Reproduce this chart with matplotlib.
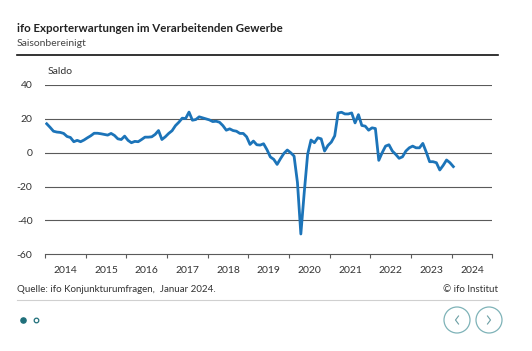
import numpy as np
import matplotlib
matplotlib.use("Agg")
import matplotlib.pyplot as plt
from matplotlib.patches import Circle

plt.rcParams['font.family'] = ['Lato', 'DejaVu Sans']

# ifo Exporterwartungen, Saldo, monatlich Jan 2014 - Jan 2024
werte = [
    17.1, 15.0, 12.7, 12.2, 12.0, 11.4, 9.6, 9.0, 6.5, 7.3, 6.5, 7.5,      # 2014
    8.8, 10.0, 11.5, 11.5, 11.2, 10.8, 10.4, 11.4, 10.2, 8.2, 7.8, 9.8,    # 2015
    7.3, 5.9, 6.7, 6.5, 7.8, 9.2, 9.2, 9.4, 10.8, 13.1, 7.8, 9.4,          # 2016
    11.4, 13.0, 16.0, 18.0, 20.4, 20.2, 24.0, 19.2, 19.6, 21.2, 20.6, 20.0,  # 2017
    19.4, 18.4, 18.6, 18.0, 16.0, 13.3, 14.1, 13.1, 12.7, 11.4, 11.4, 9.4,   # 2018
    4.9, 6.9, 4.7, 4.5, 5.3, 1.8, -2.5, -3.9, -6.9, -3.5, -0.4, 1.6,        # 2019
    0.0, -2.0, -17.6, -48.0, -23.5, -1.0, 7.5, 5.9, 8.8, 8.2, 1.0, 4.3,     # 2020
    6.3, 10.0, 23.5, 23.9, 22.9, 22.9, 23.5, 17.6, 22.5, 16.1, 15.7, 13.3,  # 2021
    14.7, 14.3, -4.5, 0.0, 3.9, 4.7, 1.0, -1.0, -3.3, -2.4, 1.0, 2.9,       # 2022
    3.9, 2.9, 2.9, 5.5, 0.4, -5.3, -5.3, -5.9, -10.2, -7.5, -4.3, -5.9,     # 2023
    -8.2,                                                                    # 2024
]
jahre = list(range(2014, 2025))
y_ticks = [40, 20, 0, -20, -40, -60]

monat = np.arange(len(werte))
x = 2014 + (monat + 0.5) / 12

W, H = 532, 351
fig = plt.figure(figsize=(W / 100, H / 100), dpi=100)

ax = fig.add_axes([45 / W, 1 - 254.3 / H, (492.3 - 45) / W, (254.3 - 85) / H])
ax.plot(x, werte, color='#1c74b9', lw=2.0, solid_joinstyle='round', zorder=3)
ax.set_xlim(2014, 2025)
ax.set_ylim(-60, 40)

ax.set_yticks(y_ticks)
ax.set_yticklabels([str(v) for v in y_ticks])
for v in y_ticks[:-1]:
    ax.axhline(v, color='#5a5a5a', lw=0.8, zorder=1)

ax.set_xticks(range(2014, 2026))
ax.set_xticklabels([])
ax.set_xticks([j + 0.5 for j in jahre], minor=True)
ax.set_xticklabels([str(j) for j in jahre], minor=True)
ax.tick_params(axis='x', which='major', length=3, width=0.8, color='#5a5a5a', direction='out')
ax.tick_params(axis='x', which='minor', length=0, pad=8.5, labelsize=7.5, labelcolor='#333333')
ax.tick_params(axis='y', length=0, pad=9, labelsize=7.5, labelcolor='#333333')

for s in ['top', 'right', 'left']:
    ax.spines[s].set_visible(False)
ax.spines['bottom'].set_color('#5a5a5a')
ax.spines['bottom'].set_linewidth(0.8)

# Rahmen / Kopf- und Fusszeile in Pixelkoordinaten
ov = fig.add_axes([0, 0, 1, 1], zorder=-1)
ov.set_xlim(0, W)
ov.set_ylim(H, 0)
ov.axis('off')

ov.text(17, 29, 'ifo Exporterwartungen im Verarbeitenden Gewerbe', fontsize=8.3,
        fontweight='bold', color='#222222', va='center', ha='left')
ov.text(17, 43, 'Saisonbereinigt', fontsize=7.5, color='#444444', va='center', ha='left')
ov.plot([17, 498], [54.5, 54.5], color='#111111', lw=1.2)
ov.text(48, 72, 'Saldo', fontsize=7.5, color='#333333', va='center', ha='left')

ov.text(17, 290, 'Quelle: ifo Konjunkturumfragen,  Januar 2024.', fontsize=7,
        color='#333333', va='center', ha='left')
ov.text(498, 290, '© ifo Institut', fontsize=7, color='#333333', va='center', ha='right')
ov.plot([17, 498], [299.5, 299.5], color='#d0d0d0', lw=0.8)

teal = '#1f6f7a'
ov.add_patch(Circle((23.5, 320.5), 2.6, color=teal))
ov.add_patch(Circle((36.5, 320.5), 2.3, facecolor='white', edgecolor=teal, lw=0.9))

btn = '#7fb3b8'
for cx, d in [(457, -1), (489, 1)]:
    ov.add_patch(Circle((cx, 320), 13, facecolor='none', edgecolor=btn, lw=0.9))
    ov.plot([cx - 1.5 * d, cx + 1.5 * d, cx - 1.5 * d], [316, 320, 324],
            color='#6a9ea4', lw=0.8)

fig.savefig('out.png', dpi=100)
